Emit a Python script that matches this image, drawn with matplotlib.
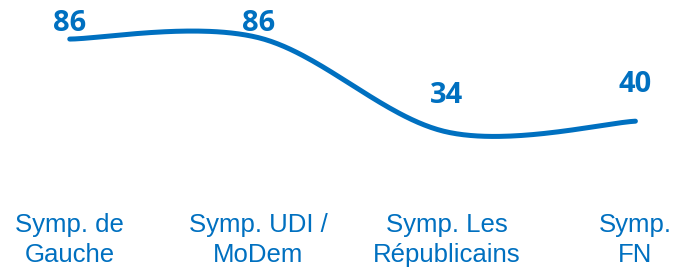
import numpy as np
import matplotlib.pyplot as plt

# Values (labels are rounded in the original)
categories = ["Symp. de\nGauche", "Symp. UDI /\nMoDem", "Symp. Les\nRépublicains", "Symp.\nFN"]
values = [85.6, 86.4, 34.0, 40.0]

BLUE = "#0070C0"


def smooth_curve(xs, ys, n=60):
    # Catmull-Rom style bezier smoothing (like Excel's "smoothed line")
    pts = np.column_stack([xs, ys]).astype(float)
    ext = np.vstack([pts[0], pts, pts[-1]])
    out = []
    t = np.linspace(0, 1, n)[:, None]
    for i in range(len(pts) - 1):
        p0, p1, p2, p3 = ext[i], ext[i + 1], ext[i + 2], ext[i + 3]
        c1 = p1 + (p2 - p0) / 6
        c2 = p2 - (p3 - p1) / 6
        seg = (1 - t) ** 3 * p1 + 3 * (1 - t) ** 2 * t * c1 + 3 * (1 - t) * t ** 2 * c2 + t ** 3 * p2
        out.append(seg if i == 0 else seg[1:])
    out = np.vstack(out)
    return out[:, 0], out[:, 1]


fig = plt.figure(figsize=(6.75, 2.67), dpi=100)
ax = fig.add_axes([0, 0, 1, 1])

x = np.arange(len(values))
sx, sy = smooth_curve(x, values)
ax.plot(sx, sy, color=BLUE, lw=3.6, solid_capstyle="round")

# data labels above points, kept inside the top of the figure
for xi, v in zip(x, values):
    ax.text(xi, min(v + 20.5, 94.5), f"{v:.0f}", ha="center", va="center",
            color=BLUE, fontsize=21, fontweight="bold", family="Open Sans")

for xi, lab in zip(x, categories):
    ax.text(xi, -26, lab, ha="center", va="center", color=BLUE,
            fontsize=18.5, family="Liberation Sans", linespacing=1.3)

ax.set_xlim(-0.37, 3.21)
ax.set_ylim(-41, 107.3)
ax.axis("off")

fig.savefig("out.png", dpi=100)
